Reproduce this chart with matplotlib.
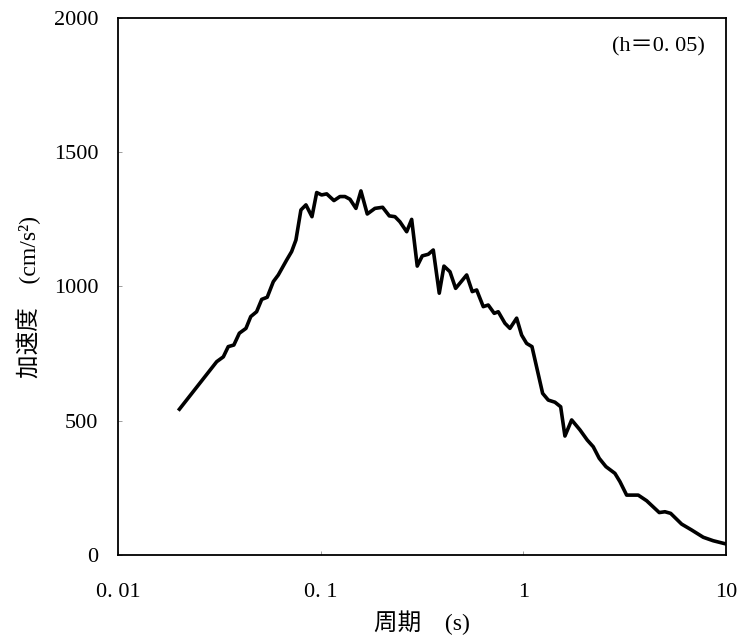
import matplotlib
matplotlib.use("Agg")
import matplotlib.pyplot as plt

# 周期 (s) と 加速度 (cm/s2) : 図から読み取った値
period = [0.0201, 0.0307, 0.0331, 0.0350, 0.0373, 0.0397, 0.0428, 0.0452,
          0.0483, 0.0512, 0.0545, 0.0584, 0.0618, 0.0680, 0.0719, 0.0755,
          0.0799, 0.0846, 0.0906, 0.0956, 0.1011, 0.1071, 0.1163, 0.1245,
          0.1318, 0.1395, 0.1493, 0.1580, 0.1698, 0.1853, 0.2022, 0.2181,
          0.2326, 0.2461, 0.2657, 0.2812, 0.2996, 0.3172, 0.3396, 0.3594,
          0.3847, 0.4058, 0.4345, 0.4634, 0.5253, 0.5597, 0.5884, 0.6343,
          0.6712, 0.7184, 0.7520, 0.8114, 0.8588, 0.9267, 0.9808, 1.038,
          1.103, 1.245, 1.327, 1.432, 1.528, 1.604, 1.731, 1.902,
          2.067, 2.213, 2.368, 2.556, 2.830, 2.997, 3.233, 3.688,
          4.058, 4.683, 4.996, 5.331, 6.039, 6.766, 7.720, 8.647, 10.0]
accel = [543, 720, 738, 776, 782, 826, 844, 888,
         906, 952, 960, 1018, 1043, 1099, 1130, 1173,
         1285, 1304, 1260, 1350, 1341, 1345, 1320, 1335,
         1335, 1325, 1291, 1356, 1270, 1291, 1295, 1263,
         1260, 1241, 1204, 1250, 1076, 1114, 1120, 1136,
         975, 1076, 1055, 993, 1043, 981, 987, 925,
         931, 900, 906, 863, 844, 882, 819, 788,
         776, 602, 577, 569, 552, 443, 503, 466,
         428, 403, 360, 329, 304, 273, 223, 223,
         202, 158, 161, 155, 115, 93, 66, 53, 41]

xticks = [0.01, 0.1, 1, 10]
xlabels = ["0. 01", "0. 1", "1", "10"]
yticks = [0, 500, 1000, 1500, 2000]

num_font = "Liberation Serif"
label_font = ["Liberation Serif", "Noto Sans CJK JP", "DejaVu Sans"]

fig = plt.figure(figsize=(7.41, 6.41), dpi=100)
ax = fig.add_axes([0.1592, 0.1342, 0.8206, 0.8377])

ax.plot(period, accel, color="black", linewidth=2.6)

ax.set_xscale("log")
ax.set_xlim(0.01, 10)
ax.set_ylim(0, 2000)
ax.set_xticks(xticks)
ax.set_xticklabels(xlabels, fontfamily=num_font, fontsize=16)
ax.set_yticks(yticks)
ax.set_yticklabels([str(v) for v in yticks], fontfamily=num_font, fontsize=16)
ax.minorticks_off()
ax.tick_params(direction="in", length=3, width=0.5, color="#777777")
ax.tick_params(axis="x", pad=20)
ax.tick_params(axis="y", pad=14)

for sp in ax.spines.values():
    sp.set_linewidth(1.3)

ax.set_xlabel("周期　(s)", family=label_font, fontsize=17, labelpad=6)
ax.set_ylabel("加速度　(cm/s²)", family=label_font, fontsize=17)
ax.yaxis.set_label_coords(-0.126, 0.48)

ax.text(0.965, 0.965, "(h＝0. 05)", transform=ax.transAxes, ha="right", va="top",
        family=label_font, fontsize=16)

fig.savefig("out.png", dpi=100)
